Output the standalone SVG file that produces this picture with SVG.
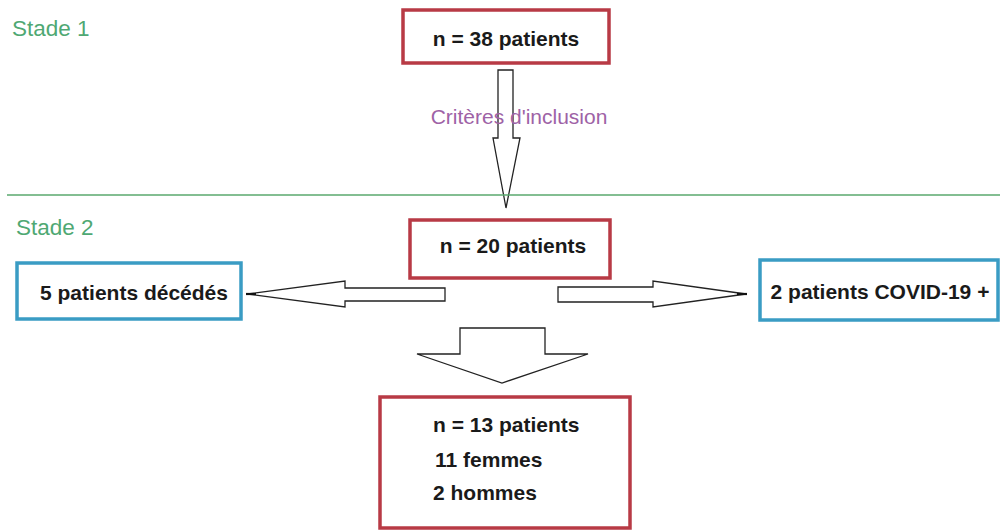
<svg xmlns="http://www.w3.org/2000/svg" width="1000" height="530" viewBox="0 0 1000 530">
<style>
.red{fill:#ffffff;stroke:#b83a45;stroke-width:3.5}
.blue{fill:#ffffff;stroke:#3a9cc4;stroke-width:3.5}
.bt{font-family:"Liberation Sans",Arial,sans-serif;font-weight:bold;font-size:21px;fill:#1a1a1a}
.stage{font-family:"Liberation Sans",Arial,sans-serif;font-size:22.5px;fill:#4fa873}
.arrow{fill:#ffffff;stroke:#222222;stroke-width:1.3;stroke-linejoin:miter}
.lbl{font-family:"Liberation Sans",Arial,sans-serif;font-size:21px;fill:#9e62a6}
</style>
<rect width="1000" height="530" fill="#ffffff"/>
<g id="connectors">
  <polygon class="arrow" points="498,70 513,70 513,138 520,138 506,208 493,138 498,138"/>
  <polygon class="arrow" points="445,288 445,301 345,301 345,307 248,294 345,281 345,288"/>
  <line x1="246" y1="294" x2="256" y2="294" stroke="#111" stroke-width="2.2"/>
  <polygon class="arrow" points="558,287 558,302 653,302 653,307 746,294 653,281 653,287"/>
  <line x1="737" y1="294" x2="747" y2="294" stroke="#111" stroke-width="2.2"/>
  <polygon class="arrow" points="460,328 545,328 545,354 588,354 502,383 417,354 460,354"/>
</g>
<g id="label-inclusion">
  <text class="lbl" x="519" y="124" text-anchor="middle">Critères d'inclusion</text>
</g>
<g id="stage-divider">
  <line x1="7" y1="195" x2="1000" y2="195" stroke="#5aa96e" stroke-width="1.3"/>
</g>
<g id="stade1"><text class="stage" x="12" y="36">Stade 1</text></g>
<g id="stade2"><text class="stage" x="16" y="235">Stade 2</text></g>
<g id="n38">
  <rect class="red" x="403" y="10" width="206" height="53"/>
  <text class="bt" x="506" y="46" text-anchor="middle">n = 38 patients</text>
</g>
<g id="n20">
  <rect class="red" x="410" y="220" width="200" height="58"/>
  <text class="bt" x="513" y="253" text-anchor="middle">n = 20 patients</text>
</g>
<g id="deces">
  <rect class="blue" x="17" y="263" width="224" height="56"/>
  <text class="bt" x="134" y="300" text-anchor="middle">5 patients décédés</text>
</g>
<g id="covid">
  <rect class="blue" x="760" y="260" width="238" height="60"/>
  <text class="bt" x="880" y="299" text-anchor="middle">2 patients COVID-19 +</text>
</g>
<g id="n13">
  <rect class="red" x="380" y="397" width="250" height="131"/>
  <text class="bt" x="433" y="432">n = 13 patients</text>
  <text class="bt" x="435" y="467">11 femmes</text>
  <text class="bt" x="433" y="500">2 hommes</text>
</g>
</svg>
